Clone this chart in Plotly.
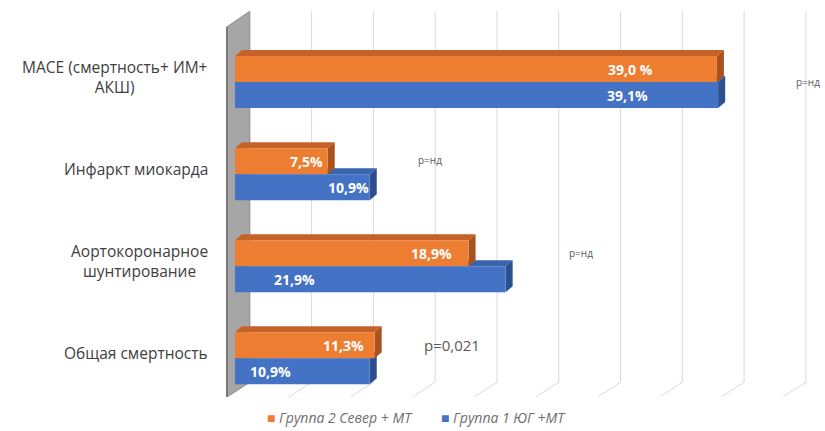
import plotly.graph_objects as go

# ---- data -------------------------------------------------------------
categories = ["MACE", "Инфаркт миокарда", "Аортокоронарное шунтирование", "Общая смертность"]
category_labels = ["MACE (смертность+ ИМ+<br>АКШ)", "Инфаркт миокарда",
                   "Аортокоронарное<br>шунтирование", "Общая смертность"]

north_name = "Группа 2 Север + МТ"
north_values = [39.0, 7.5, 18.9, 11.3]
north_labels = ["39,0 %", "7,5%", "18,9%", "11,3%"]

south_name = "Группа 1 ЮГ +МТ"
south_values = [39.1, 10.9, 21.9, 10.9]
south_labels = ["39,1%", "10,9%", "21,9%", "10,9%"]

p_texts = ["р=нд", "р=нд", "р=нд", "p=0,021"]

# ---- styling / geometry ----------------------------------------------
ORANGE, ORANGE_TOP, ORANGE_SIDE = "#ED7D31", "#C4622A", "#A9521D"
BLUE, BLUE_TOP, BLUE_SIDE = "#4472C4", "#3A64AE", "#2C4F8F"
GRID = "#D9D9D9"
FONT = "Open Sans"

x_max, grid_step = 45, 5
bar_w = (1 - 0.435) / 2          # height of one bar in category units
depth_dx, depth_dy = 0.57, 0.065  # extrusion of the bar top/side faces
back_dx, front_dx = 1.2, -0.65    # back wall / front floor offsets
top_y, floor_back_y, floor_front_y = -0.77, 3.26, 3.42
wall_top_front = -0.60

# label centres (x, in axis units) and p-value text placement
north_label_x = [32.0, 5.75, 15.9, 8.8]
south_label_x = [31.8, 9.15, 4.85, 2.85]
p_pos = [(46.4, 0.0), (15.8, 0.85), (28.0, 1.86), (17.6, 2.86)]
p_sizes = [10, 10, 10, 15]

# legend entries (paper x of each entry's left edge)
legend_x = [0.082, 0.367]
legend_y = -0.054


def path(pts):
    return "M" + " L".join(f"{x:.4f},{y:.4f}" for x, y in pts) + " Z"


fig = go.Figure()
fig.add_trace(go.Bar(y=categories, x=north_values, name=north_name, orientation="h",
                     marker=dict(color=ORANGE, line=dict(width=0))))
fig.add_trace(go.Bar(y=categories, x=south_values, name=south_name, orientation="h",
                     marker=dict(color=BLUE, line=dict(width=0))))

shapes = []
# left wall
shapes.append(dict(type="path", layer="below", xref="x", yref="y",
                   path=path([(front_dx, wall_top_front), (back_dx, top_y),
                              (back_dx, floor_back_y), (front_dx, floor_front_y)]),
                   fillcolor="#A6A6A6", line=dict(color="#8C8C8C", width=1)))
shapes.append(dict(type="line", layer="below", xref="x", yref="y",
                   x0=front_dx, x1=front_dx, y0=wall_top_front, y1=floor_front_y,
                   line=dict(color="#7A7A7A", width=2)))
# back-wall gridlines and floor lines
for g in range(grid_step, x_max + 1, grid_step):
    shapes.append(dict(type="line", layer="below", xref="x", yref="y",
                       x0=g + back_dx, x1=g + back_dx, y0=top_y, y1=floor_back_y,
                       line=dict(color=GRID, width=1)))
    shapes.append(dict(type="line", layer="below", xref="x", yref="y",
                       x0=g + back_dx, x1=g + front_dx, y0=floor_back_y, y1=floor_front_y,
                       line=dict(color=GRID, width=1)))

# extruded faces: blue first so the orange faces sit over it
for values, offset, top_c, side_c in [(south_values, 0.0, BLUE_TOP, BLUE_SIDE),
                                       (north_values, -bar_w, ORANGE_TOP, ORANGE_SIDE)]:
    for i, v in enumerate(values):
        y_top = i + offset
        y_bot = y_top + bar_w
        shapes.append(dict(type="path", layer="below", xref="x", yref="y",
                           path=path([(0, y_top), (v, y_top), (v + depth_dx, y_top - depth_dy),
                                      (depth_dx, y_top - depth_dy)]),
                           fillcolor=top_c, line=dict(width=0)))
        shapes.append(dict(type="path", layer="below", xref="x", yref="y",
                           path=path([(v, y_top), (v + depth_dx, y_top - depth_dy),
                                      (v + depth_dx, y_bot - depth_dy), (v, y_bot)]),
                           fillcolor=side_c, line=dict(width=0)))

annotations = []
for i, lab in enumerate(category_labels):
    annotations.append(dict(xref="paper", yref="y", x=0, y=i, xanchor="right", yanchor="middle",
                            xshift=-5, yshift=5, text=lab, showarrow=False, align="center",
                            font=dict(family=FONT, size=15.5, color="#404040")))
for labels, xs, offset in [(north_labels, north_label_x, -bar_w / 2),
                           (south_labels, south_label_x, bar_w / 2)]:
    for i, (lab, lx) in enumerate(zip(labels, xs)):
        annotations.append(dict(xref="x", yref="y", x=lx, y=i + offset, text=lab,
                                showarrow=False, xanchor="center", yanchor="middle",
                                font=dict(family=FONT, size=14, color="white", weight="bold")))
for txt, (px, py), fs in zip(p_texts, p_pos, p_sizes):
    annotations.append(dict(xref="x", yref="y", x=px, y=py, text=txt, showarrow=False,
                            xanchor="center", yanchor="middle",
                            font=dict(family=FONT, size=fs, color="#595959")))
# legend drawn as text entries with coloured square markers
for name, color, lx in [(north_name, ORANGE, legend_x[0]), (south_name, BLUE, legend_x[1])]:
    annotations.append(dict(xref="paper", yref="paper", x=lx, y=legend_y, xanchor="left",
                            yanchor="middle", showarrow=False,
                            text=f"<span style='color:{color}'>■</span> <i>{name}</i>",
                            font=dict(family=FONT, size=14, color="#6E6E6E")))

fig.update_layout(
    width=825, height=431,
    margin=dict(l=215, r=0, t=10, b=34),
    paper_bgcolor="white", plot_bgcolor="white",
    barmode="group", bargap=0.435, bargroupgap=0,
    showlegend=False,
    xaxis=dict(range=[-1.62, 47.75], showgrid=False, zeroline=False, showticklabels=False,
               showline=False, ticks=""),
    yaxis=dict(range=[floor_front_y, -0.783], showgrid=False, zeroline=False,
               showticklabels=False, showline=False, ticks=""),
    shapes=shapes,
    annotations=annotations,
)

fig.write_html("out.html")
